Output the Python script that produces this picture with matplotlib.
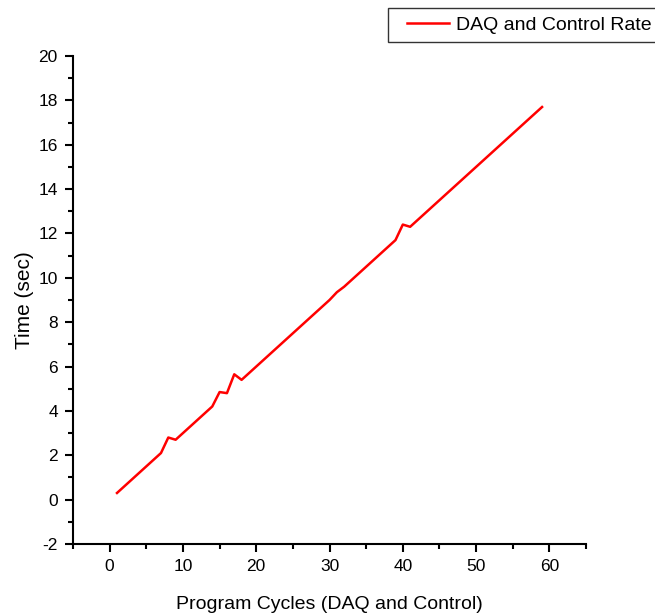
import matplotlib
matplotlib.use("Agg")
import matplotlib.pyplot as plt
from matplotlib.ticker import MultipleLocator
from matplotlib.legend_handler import HandlerLine2D

plt.rcParams["axes.unicode_minus"] = False
plt.rcParams["font.family"] = ["Liberation Sans", "DejaVu Sans"]

cycles = list(range(1, 60))
times = [0.30, 0.60, 0.90, 1.20, 1.50, 1.80, 2.10, 2.80, 2.70, 3.00,
         3.30, 3.60, 3.90, 4.20, 4.85, 4.80, 5.65, 5.40, 5.70, 6.00,
         6.30, 6.60, 6.90, 7.20, 7.50, 7.80, 8.10, 8.40, 8.70, 9.00,
         9.35, 9.60, 9.90, 10.20, 10.50, 10.80, 11.10, 11.40, 11.70, 12.40,
         12.30, 12.60, 12.90, 13.20, 13.50, 13.80, 14.10, 14.40, 14.70, 15.00,
         15.30, 15.60, 15.90, 16.20, 16.50, 16.80, 17.10, 17.40, 17.70]
series_label = "DAQ and Control Rate"
x_label = "Program Cycles (DAQ and Control)"
y_label = "Time (sec)"


class OffsetLineHandler(HandlerLine2D):
    """Draws the legend line only over the right part of the handle box."""
    def get_xdata(self, legend, xdescent, ydescent, width, height, fontsize):
        xd, xm = super().get_xdata(legend, xdescent, ydescent, width, height, fontsize)
        xd = [xd[0] + 0.2 * width, xd[-1]]
        return xd, xm


fig = plt.figure(figsize=(6.55, 6.16), dpi=100)
ax = fig.add_axes([0.1115, 0.1169, 0.7832, 0.7922])
line, = ax.plot(cycles, times, color="#ff0000", lw=1.8, label=series_label)
ax.set_xlim(-5, 65)
ax.set_ylim(-2, 20)
ax.xaxis.set_major_locator(MultipleLocator(10))
ax.xaxis.set_minor_locator(MultipleLocator(5))
ax.yaxis.set_major_locator(MultipleLocator(2))
ax.yaxis.set_minor_locator(MultipleLocator(1))
for s in ["top", "right"]:
    ax.spines[s].set_visible(False)
for s in ["left", "bottom"]:
    ax.spines[s].set_linewidth(1.5)
ax.tick_params(which="major", direction="out", length=6, width=1.5, labelsize=12.5, pad=5)
ax.tick_params(which="minor", direction="out", length=3.5, width=1.5)
ax.set_xlabel(x_label, fontsize=14, labelpad=16)
ax.set_ylabel(y_label, fontsize=15, labelpad=3)

leg = fig.legend(handles=[line], loc="upper left",
                 bbox_to_anchor=(388/655, 1 - 8/616), frameon=True,
                 fancybox=False, edgecolor="black", borderaxespad=0,
                 prop={"size": 14}, handlelength=2.7, handletextpad=0.4,
                 borderpad=0.42,
                 handler_map={line: OffsetLineHandler()})
leg.get_frame().set_linewidth(1.0)

fig.savefig("out.png", dpi=100)
